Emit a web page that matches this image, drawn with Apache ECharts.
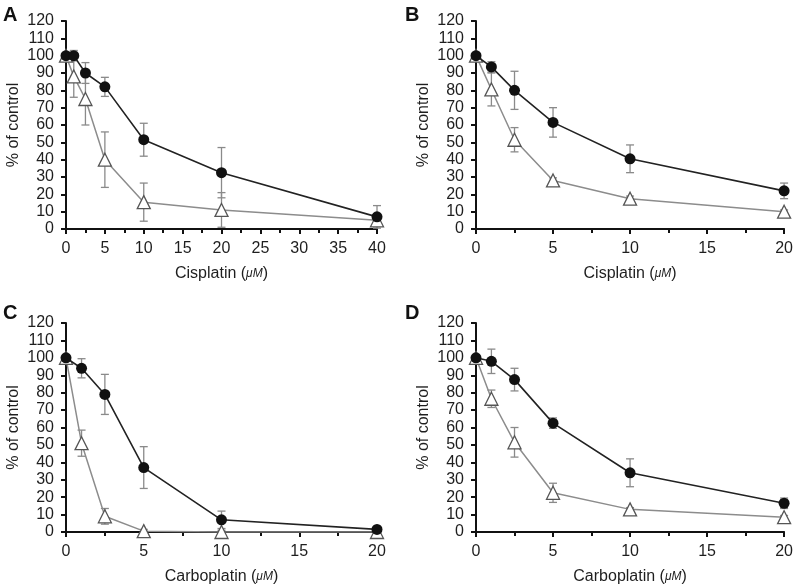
<!DOCTYPE html>
<html>
<head>
<meta charset="utf-8">
<script src="https://cdn.jsdelivr.net/npm/echarts@6/dist/echarts.min.js"></script>
<style>html,body{margin:0;padding:0;background:#fff}#c{width:796px;height:586px}</style>
</head>
<body>
<div id="c"></div>
<script>
// Doses
const dosesA = [0, 1, 2.5, 5, 10, 20, 40];
const dosesBCD = [0, 1, 2.5, 5, 10, 20];
// Panel A (Cisplatin)
const aCircle = [100, 100, 90, 82, 51.5, 32.5, 7];
const aCircleErr = [0, 3, 6, 5.5, 9.5, 14.5, 6.5];
const aTri = [100, 88, 75, 40, 15.5, 11, 5];
const aTriErr = [0, 12, 15, 16, 11, 10, 2];
// Panel B (Cisplatin)
const bCircle = [100, 93.5, 80, 61.5, 40.5, 22];
const bCircleErr = [0, 3, 11, 8.5, 8, 4.5];
const bTri = [100, 80.5, 51.5, 28, 17.5, 10];
const bTriErr = [0, 9.5, 7, 1.5, 1.5, 1];
// Panel C (Carboplatin)
const cCircle = [100, 94, 79, 37, 7, 1.5];
const cCircleErr = [0, 5.5, 11.5, 12, 5, 0.5];
const cTri = [100, 51, 9, 0.5, 0, 0];
const cTriErr = [0, 7.5, 4.5, 1, 1, 0.5];
// Panel D (Carboplatin)
const dCircle = [100, 98, 87.5, 62.5, 34, 16.5];
const dCircleErr = [0, 7, 6.5, 3, 8, 3];
const dTri = [100, 76.5, 51.5, 22.5, 13, 8.5];
const dTriErr = [0, 5, 8.5, 5.5, 1, 1];
// Axis texts
const panelLetters = ['A', 'B', 'C', 'D'];
const xNames = ['Cisplatin', 'Cisplatin', 'Carboplatin', 'Carboplatin'];
const yName = '% of control';
const xMax = [40, 20, 20, 20];

const panels = [
  {doses: dosesA, c: aCircle, ce: aCircleErr, t: aTri, te: aTriErr},
  {doses: dosesBCD, c: bCircle, ce: bCircleErr, t: bTri, te: bTriErr},
  {doses: dosesBCD, c: cCircle, ce: cCircleErr, t: cTri, te: cTriErr},
  {doses: dosesBCD, c: dCircle, ce: dCircleErr, t: dTri, te: dTriErr}
];

const gridPos = [
  {left: 66, top: 21, width: 311, height: 208},
  {left: 476, top: 21, width: 311, height: 208},
  {left: 66, top: 323, width: 311, height: 209},
  {left: 476, top: 323, width: 311, height: 209}
];

const textColor = '#1e1e1e';
const font = 'Liberation Sans, Arial, sans-serif';

function pairs(xs, ys) { return xs.map((x, i) => [x, ys[i]]); }
function errs(xs, ys, es) { return xs.map((x, i) => [x, ys[i] - es[i], ys[i] + es[i]]); }

function renderErr(params, api) {
  const x = api.value(0);
  const lo = api.coord([x, api.value(1)]);
  const hi = api.coord([x, api.value(2)]);
  const hw = 4;
  const style = {stroke: '#8a8a8a', lineWidth: 1.3};
  return {
    type: 'group',
    children: [
      {type: 'line', shape: {x1: lo[0], y1: lo[1], x2: hi[0], y2: hi[1]}, style: style},
      {type: 'line', shape: {x1: lo[0] - hw, y1: lo[1], x2: lo[0] + hw, y2: lo[1]}, style: style},
      {type: 'line', shape: {x1: hi[0] - hw, y1: hi[1], x2: hi[0] + hw, y2: hi[1]}, style: style}
    ]
  };
}

const grid = gridPos.map(g => Object.assign({containLabel: false}, g));
const xAxis = [], yAxis = [], series = [];
panels.forEach((p, i) => {
  xAxis.push({
    type: 'value', gridIndex: i, min: 0, max: xMax[i], interval: 5,
    name: '{n|' + xNames[i] + ' (}{u|μM}{n|)}',
    nameLocation: 'middle', nameGap: 37,
    nameTextStyle: {rich: {
      n: {fontSize: 16, color: textColor, fontFamily: font},
      u: {fontSize: 12, fontStyle: 'italic', color: textColor, fontFamily: font}
    }},
    axisLine: {show: true, onZero: false, lineStyle: {color: '#111', width: 2}},
    axisTick: {show: true, length: 5, lineStyle: {color: '#111', width: 2}},
    minorTick: {show: true, splitNumber: 2, length: 4, lineStyle: {color: '#111', width: 2}},
    axisLabel: {fontSize: 16, color: textColor, fontFamily: font, margin: 12},
    splitLine: {show: false}
  });
  yAxis.push({
    type: 'value', gridIndex: i, min: 0, max: 120, interval: 10,
    name: yName, nameLocation: 'middle', nameGap: 44, nameRotate: 90,
    nameTextStyle: {fontSize: 16, color: textColor, fontFamily: font},
    axisLine: {show: true, lineStyle: {color: '#111', width: 2}},
    axisTick: {show: true, length: 5, lineStyle: {color: '#111', width: 2}},
    axisLabel: {fontSize: 16, color: textColor, fontFamily: font, margin: 12},
    splitLine: {show: false}
  });
  series.push({
    type: 'custom', xAxisIndex: i, yAxisIndex: i, renderItem: renderErr,
    data: errs(p.doses, p.t, p.te), z: 1, silent: true
  });
  series.push({
    type: 'custom', xAxisIndex: i, yAxisIndex: i, renderItem: renderErr,
    data: errs(p.doses, p.c, p.ce), z: 1, silent: true
  });
  series.push({
    type: 'line', xAxisIndex: i, yAxisIndex: i, data: pairs(p.doses, p.t),
    symbol: 'triangle', symbolSize: 13, z: 2,
    lineStyle: {color: '#8c8c8c', width: 1.5},
    itemStyle: {color: '#fff', borderColor: '#555', borderWidth: 1.3},
    animation: false
  });
  series.push({
    type: 'line', xAxisIndex: i, yAxisIndex: i, data: pairs(p.doses, p.c),
    symbol: 'circle', symbolSize: 11, z: 3,
    lineStyle: {color: '#222', width: 1.6},
    itemStyle: {color: '#111', borderColor: '#111', borderWidth: 0},
    animation: false
  });
});

const letterPos = [[3, 5], [405, 5], [3, 303], [405, 303]];
const graphic = panelLetters.map((L, i) => ({
  type: 'text', left: letterPos[i][0], top: letterPos[i][1],
  style: {text: L, font: 'bold 20px ' + font, fill: '#111'}
}));

const chart = echarts.init(document.getElementById('c'));
chart.setOption({
  animation: false,
  backgroundColor: '#fff',
  grid: grid, xAxis: xAxis, yAxis: yAxis, series: series, graphic: graphic
});
</script>
</body>
</html>
